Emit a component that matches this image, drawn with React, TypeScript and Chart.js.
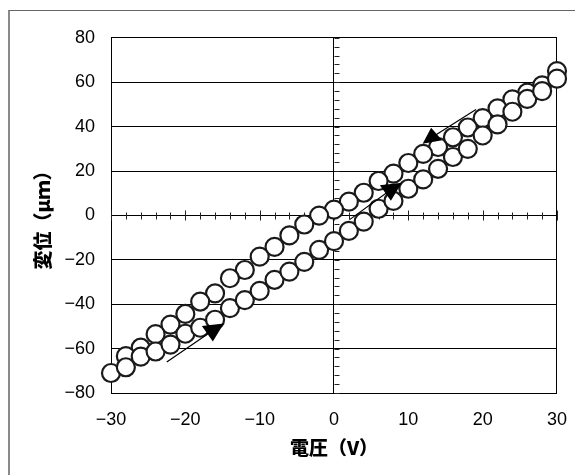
import React, { useEffect, useRef } from "react";
import { Chart, registerables } from "chart.js";

Chart.register(...registerables);

// Lower branch (voltage increasing)
const voltageIncreasing = [
  -30, -28, -26, -24, -22, -20, -18, -16, -14, -12, -10, -8, -6, -4, -2, 0,
  2, 4, 6, 8, 10, 12, 14, 16, 18, 20, 22, 24, 26, 28, 30,
];
const displacementIncreasing = [
  -71, -68.4, -63.6, -61.3, -58.2, -53.3, -50.6, -47, -41.8, -38.2, -34, -29,
  -25.3, -20.9, -15.5, -11.6, -7, -2.8, 3, 6.5, 12, 16.2, 21, 26.3, 30, 36,
  41, 46.7, 52.5, 56, 61.6,
];

// Upper branch (voltage decreasing)
const voltageDecreasing = [
  30, 28, 26, 24, 22, 20, 18, 16, 14, 12, 10, 8, 6, 4, 2, 0, -2, -4, -6, -8,
  -10, -12, -14, -16, -18, -20, -22, -24, -26, -28,
];
const displacementDecreasing = [
  65, 58.6, 55.3, 52.3, 48.2, 43.8, 39.6, 35.2, 30.8, 27.7, 23.6, 18.8, 15.5,
  10.2, 6.2, 2.6, -0.1, -4.1, -9, -14.2, -18.6, -24.6, -28.3, -35.1, -38.8,
  -44.4, -49.2, -53.5, -59.6, -63.4,
];

// Direction arrows (data units): start and end points
const arrowStartX = [-22.5, 2.1, 19.1];
const arrowStartY = [-66, -1.9, 47.7];
const arrowEndX = [-16.3, 7.65, 13.2];
const arrowEndY = [-51.8, 11.6, 35.2];

const xMin = -30;
const xMax = 30;
const xStep = 10;
const xMinorStep = 2;
const yMin = -80;
const yMax = 80;
const yStep = 20;
const yMinorStep = 4;

const xTitle = "電圧（V）";
const yTitle = "変位（μｍ）";

const fmt = (v: number) => (v < 0 ? "\u2212" + Math.abs(v) : String(v));

const zeroAxesPlugin = {
  id: "zeroAxes",
  beforeDatasetsDraw(chart: any) {
    const { ctx, scales } = chart;
    const xs = scales.x;
    const ys = scales.y;
    const y0 = Math.round(ys.getPixelForValue(0)) + 0.5;
    const x0 = Math.round(xs.getPixelForValue(0)) + 0.5;
    ctx.save();
    ctx.strokeStyle = "#222";
    ctx.lineWidth = 1;
    ctx.beginPath();
    for (let v = xMin; v <= xMax; v += xMinorStep) {
      const px = Math.round(xs.getPixelForValue(v)) + 0.5;
      const major = v % xStep === 0;
      ctx.moveTo(px, y0 - (major ? 5 : 3));
      ctx.lineTo(px, y0 + (major ? 5 : 4));
    }
    for (let v = yMin; v <= yMax; v += yMinorStep) {
      const py = Math.round(ys.getPixelForValue(v)) + 0.5;
      ctx.moveTo(x0, py);
      ctx.lineTo(x0 + 5, py);
    }
    ctx.stroke();
    ctx.restore();
  },
};

const arrowsPlugin = {
  id: "arrows",
  afterDatasetsDraw(chart: any) {
    const { ctx, scales } = chart;
    const xs = scales.x;
    const ys = scales.y;
    ctx.save();
    ctx.strokeStyle = "#000";
    ctx.fillStyle = "#000";
    ctx.lineWidth = 1.2;
    for (let i = 0; i < arrowStartX.length; i++) {
      const sx = xs.getPixelForValue(arrowStartX[i]);
      const sy = ys.getPixelForValue(arrowStartY[i]);
      const ex = xs.getPixelForValue(arrowEndX[i]);
      const ey = ys.getPixelForValue(arrowEndY[i]);
      ctx.beginPath();
      ctx.moveTo(sx, sy);
      ctx.lineTo(ex, ey);
      ctx.stroke();
      const up = arrowEndY[i] > arrowStartY[i];
      const pts = up
        ? [
            [-11, -4.5],
            [11, -7],
            [0, 11],
          ]
        : [
            [-9.5, 6.5],
            [10, 3],
            [-1, -9.5],
          ];
      ctx.beginPath();
      ctx.moveTo(ex + pts[0][0], ey + pts[0][1]);
      ctx.lineTo(ex + pts[1][0], ey + pts[1][1]);
      ctx.lineTo(ex + pts[2][0], ey + pts[2][1]);
      ctx.closePath();
      ctx.fill();
    }
    ctx.restore();
  },
};

export default function App() {
  const canvasRef = useRef<HTMLCanvasElement | null>(null);

  useEffect(() => {
    document.body.style.overflow = "hidden";
    document.documentElement.style.overflow = "hidden";
    const canvas = canvasRef.current;
    if (!canvas) return;

    const pointStyle = {
      showLine: false,
      clip: false,
      pointRadius: 9,
      pointHoverRadius: 9,
      pointBorderWidth: 2.2,
      pointBorderColor: "#1a1a1a",
      pointBackgroundColor: "#ffffff",
      borderColor: "#1a1a1a",
      backgroundColor: "#ffffff",
    };

    const chart = new Chart(canvas, {
      type: "scatter",
      data: {
        datasets: [
          {
            label: "up",
            data: voltageIncreasing.map((x, i) => ({ x, y: displacementIncreasing[i] })),
            ...pointStyle,
          },
          {
            label: "down",
            data: voltageDecreasing.map((x, i) => ({ x, y: displacementDecreasing[i] })),
            ...pointStyle,
          },
        ],
      },
      options: {
        animation: false,
        responsive: false,
        devicePixelRatio: 1,
        layout: { padding: { top: 23, right: 25, left: 0, bottom: 0 } },
        plugins: {
          legend: { display: false },
          tooltip: { enabled: false },
        },
        scales: {
          x: {
            type: "linear",
            min: xMin,
            max: xMax,
            ticks: {
              stepSize: xStep,
              padding: 16,
              color: "#000",
              font: { family: "'Liberation Sans', Arial, sans-serif", size: 18 },
              callback: (v: any) => fmt(Number(v)),
              maxRotation: 0,
              autoSkip: false,
            },
            grid: {
              drawTicks: false,
              lineWidth: 1,
              color: (c: any) => {
                const v = c.tick ? c.tick.value : null;
                return v === 0 || v === xMin || v === xMax ? "#000" : "rgba(0,0,0,0)";
              },
            },
            border: { display: true, color: "#000", width: 1 },
            title: {
              display: true,
              text: xTitle,
              color: "#000",
              font: { family: "'Noto Sans CJK JP', sans-serif", size: 19, weight: "900" },
              padding: { top: 0, bottom: 16 },
            },
            afterFit: (s: any) => {
              s.height = 82;
            },
          },
          y: {
            type: "linear",
            min: yMin,
            max: yMax,
            ticks: {
              stepSize: yStep,
              padding: 16,
              color: "#000",
              font: { family: "'Liberation Sans', Arial, sans-serif", size: 18 },
              callback: (v: any) => fmt(Number(v)),
              autoSkip: false,
            },
            grid: {
              drawTicks: false,
              lineWidth: 1,
              color: "#000",
            },
            border: { display: true, color: "#000", width: 1 },
            title: {
              display: true,
              text: yTitle,
              color: "#000",
              font: { family: "'Noto Sans CJK JP', sans-serif", size: 19, weight: "900" },
              padding: { top: 21, bottom: 0 },
            },
            afterFit: (s: any) => {
              s.width = 101;
            },
          },
        },
      },
      plugins: [zeroAxesPlugin, arrowsPlugin],
    } as any);

    return () => chart.destroy();
  }, []);

  return (
    <div style={{ paddingTop: 2 }}>
      <div
        style={{
          borderLeft: "2px solid #8a8a8a",
          borderTop: "1px solid #666",
          width: 573,
          height: 464,
        }}
      >
        <canvas ref={canvasRef} width={573} height={464} style={{ display: "block" }} />
      </div>
    </div>
  );
}
